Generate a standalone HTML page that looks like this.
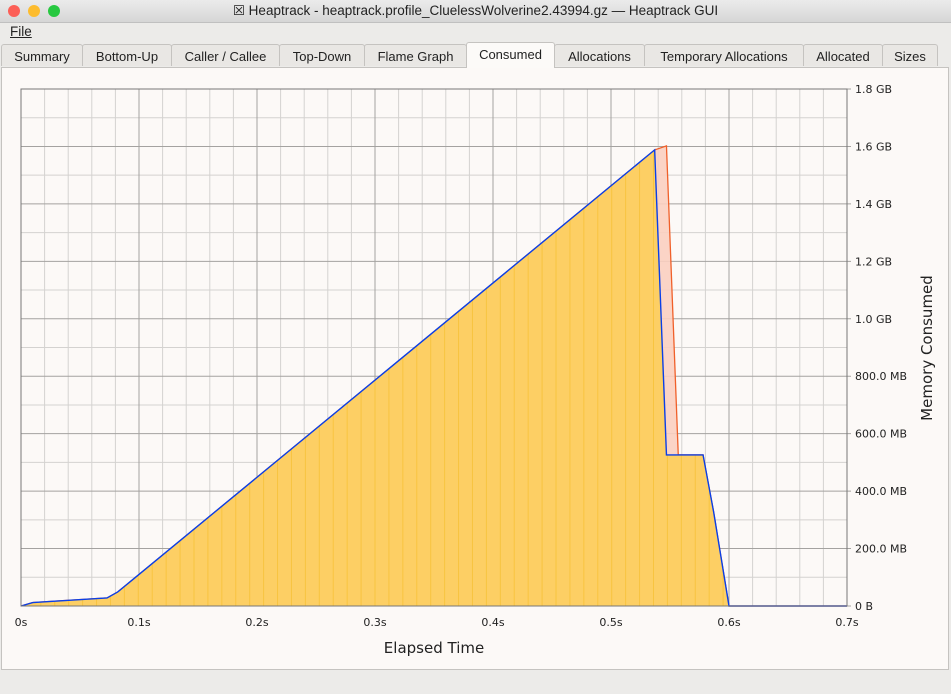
<!DOCTYPE html>
<html><head><meta charset="utf-8"><style>
body{margin:0;width:951px;height:694px;background:#ecebe9;font-family:"Liberation Sans","DejaVu Sans",sans-serif;position:relative;overflow:hidden}
#titlebar{position:absolute;left:0;top:0;width:951px;height:22px;background:linear-gradient(#ebebeb,#d6d6d6);border-bottom:1px solid #c0c0c0;text-align:center;font-size:13.5px;line-height:22px;color:#222}
.dot{position:absolute;top:5px;width:12px;height:12px;border-radius:50%}
#menubar{position:absolute;top:23px;left:0;width:951px;height:19px;font-size:13.5px;line-height:18px;color:#222}
.tab{position:absolute;top:44px;height:22px;border:1px solid #c5c3c0;border-bottom:none;background:#e9e7e4;font-size:13px;line-height:23px;text-align:center;color:#222;box-sizing:border-box;border-radius:3px 3px 0 0}
.tab.active{background:#fcfaf8;top:42px;height:26px;z-index:2}
#panel{position:absolute;left:1px;top:67px;width:948px;height:603px;background:#fcf9f7;border:1px solid #c5c3c0;box-sizing:border-box}
svg text{font-family:"DejaVu Sans","Liberation Sans",sans-serif}
</style></head><body>
<div id="titlebar">
<span class="dot" style="left:8px;background:#fc5f57"></span>
<span class="dot" style="left:28px;background:#fdbc2e"></span>
<span class="dot" style="left:48px;background:#27c840"></span>
<span>☒ Heaptrack - heaptrack.profile_CluelessWolverine2.43994.gz — Heaptrack GUI</span></div>
<div id="menubar"><span style="margin-left:10px;text-decoration:underline;text-decoration-thickness:1px">File</span></div>
<div class="tab" style="left:1px;width:82px">Summary</div>
<div class="tab" style="left:82px;width:90px">Bottom-Up</div>
<div class="tab" style="left:171px;width:109px">Caller / Callee</div>
<div class="tab" style="left:279px;width:86px">Top-Down</div>
<div class="tab" style="left:364px;width:103px">Flame Graph</div>
<div class="tab active" style="left:466px;width:89px">Consumed</div>
<div class="tab" style="left:554px;width:91px">Allocations</div>
<div class="tab" style="left:644px;width:160px">Temporary Allocations</div>
<div class="tab" style="left:803px;width:80px">Allocated</div>
<div class="tab" style="left:882px;width:56px">Sizes</div>
<div id="panel"></div>
<svg id="chart" width="951" height="694" style="position:absolute;left:0;top:0"></svg>
<script>
const xTicks=[0,0.1,0.2,0.3,0.4,0.5,0.6,0.7];
const xTickLabels=["0s","0.1s","0.2s","0.3s","0.4s","0.5s","0.6s","0.7s"];
const yTicks=[0,200,400,600,800,1000,1200,1400,1600,1800];
const yTickLabels=["0 B","200.0 MB","400.0 MB","600.0 MB","800.0 MB","1.0 GB","1.2 GB","1.4 GB","1.6 GB","1.8 GB"];
const mainTimes=[0,0.01,0.0729,0.082,0.537,0.547,0.578,0.587,0.6,0.7];
const mainValues=[0,12,28,49,1588,526,526,327,0,0];
const peakTimes=[0,0.01,0.0729,0.082,0.537,0.547,0.557,0.578,0.587,0.6,0.7];
const peakValues=[0,12,28,49,1588,1602,526,526,327,0,0];
const X0=21,X1=847,Y0=606,Y1=89,XMAX=0.7,YMAX=1800;
const sx=t=>X0+t/XMAX*(X1-X0);
const sy=v=>Y0-v/YMAX*(Y0-Y1);
const svg=document.getElementById('chart');
const NS='http://www.w3.org/2000/svg';
function mk(tag,attrs){const e=document.createElementNS(NS,tag);for(const k in attrs)e.setAttribute(k,attrs[k]);svg.appendChild(e);return e;}
let bg=mk('rect',{x:X0,y:Y1,width:X1-X0,height:Y0-Y1,fill:'#fcf9f7'});


for(let t=0.02;t<XMAX-1e-9;t+=0.02){let l=mk('line',{x1:sx(t),x2:sx(t),y1:Y1,y2:Y0,stroke:'#d4d2d0','stroke-width':1});

}
for(let v=100;v<YMAX;v+=200){let l=mk('line',{x1:X0,x2:X1,y1:sy(v),y2:sy(v),stroke:'#d4d2d0','stroke-width':1});

}
xTicks.forEach((t,i)=>{let l=mk('line',{x1:sx(t),x2:sx(t),y1:Y1,y2:Y0,stroke:'#a4a2a0','stroke-width':1});


let tx=mk('text',{x:sx(t),y:Y0+20,'font-size':11,'text-anchor':'middle',fill:'#222'});tx.textContent=xTickLabels[i];

});
yTicks.forEach((v,i)=>{let l=mk('line',{x1:X0,x2:X1+4,y1:sy(v),y2:sy(v),stroke:'#a4a2a0','stroke-width':1});


let tx=mk('text',{x:X1+8,y:sy(v)+4,'font-size':11,fill:'#222'});tx.textContent=yTickLabels[i];

});
function area(ts,vs){let d='M'+sx(ts[0])+','+Y0;ts.forEach((t,i)=>d+=' L'+sx(t)+','+sy(vs[i]));d+=' L'+sx(ts[ts.length-1])+','+Y0+' Z';return d;}
function line(ts,vs){return ts.map((t,i)=>(i?'L':'M')+sx(t)+','+sy(vs[i])).join(' ');}
let pa=mk('path',{d:area(peakTimes,peakValues),fill:'#fbcfc0','fill-opacity':0.9});


let pl=mk('path',{d:line(peakTimes,peakValues),fill:'none',stroke:'#f0602a','stroke-width':1.3});


let defs=mk('defs',{});
let cp=document.createElementNS(NS,'clipPath');cp.setAttribute('id','mc');defs.appendChild(cp);
let cpp=document.createElementNS(NS,'path');cpp.setAttribute('d',area(mainTimes,mainValues));cp.appendChild(cpp);
let ma=mk('path',{d:area(mainTimes,mainValues),fill:'#fdcf64'});


let g=mk('g',{'clip-path':'url(#mc)'});
for(let t=0.005;t<0.6;t+=0.0118){let l=document.createElementNS(NS,'line');l.setAttribute('x1',sx(t));l.setAttribute('x2',sx(t));l.setAttribute('y1',Y1);l.setAttribute('y2',Y0);l.setAttribute('stroke','#f8c440');l.setAttribute('stroke-width',1);g.appendChild(l);}
let ml=mk('path',{d:line(mainTimes,mainValues),fill:'none',stroke:'#0a3fe8','stroke-width':1.4});


let fr=mk('rect',{x:X0,y:Y1,width:X1-X0,height:Y0-Y1,fill:'none',stroke:'#777','stroke-width':1});


let xt=mk('text',{x:434,y:653,'font-size':15,'text-anchor':'middle',fill:'#222'});xt.textContent='Elapsed Time';


let yt=mk('text',{x:932,y:348,'font-size':15,'text-anchor':'middle',fill:'#222',transform:'rotate(-90 932 348)'});yt.textContent='Memory Consumed';


</script>
</body></html>
